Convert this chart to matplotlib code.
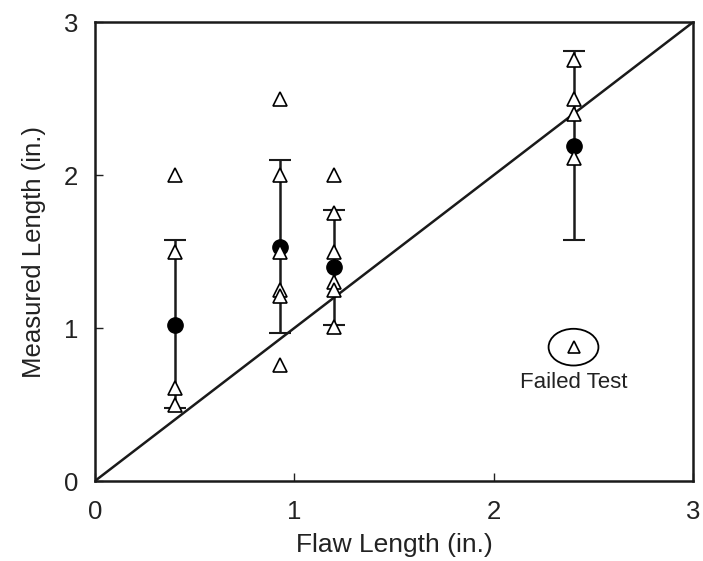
import numpy as np
import matplotlib
matplotlib.use('Agg')
from matplotlib import pyplot as plt
from matplotlib.patches import Ellipse

plt.rcParams['font.family'] = ['Liberation Sans', 'DejaVu Sans']

# individual measurements (open triangles)
tri_x = [0.4, 0.4, 0.4, 0.4,
         0.93, 0.93, 0.93, 0.93, 0.93, 0.93,
         1.2, 1.2, 1.2, 1.2, 1.2, 1.2,
         2.4, 2.4, 2.4, 2.4]
tri_y = [2.0, 1.5, 0.61, 0.5,
         2.5, 2.0, 1.5, 1.25, 1.21, 0.76,
         2.0, 1.75, 1.5, 1.3, 1.25, 1.01,
         2.75, 2.5, 2.4, 2.11]

# means with error bars
mean_x = [0.4, 0.93, 1.2, 2.4]
mean_y = [1.02, 1.53, 1.40, 2.19]
err_hi = [1.575, 2.10, 1.77, 2.81]
err_lo = [0.48, 0.97, 1.02, 1.575]

# failed test point
fail_x = 2.4
fail_y = 0.875

fig = plt.figure(figsize=(7.03, 5.61), dpi=100)
ax = fig.add_axes([0.135, 0.1426, 0.851, 0.818])

ax.plot([0, 3], [0, 3], color='#1a1a1a', lw=1.8, zorder=1)

yerr = [np.array(mean_y) - np.array(err_lo), np.array(err_hi) - np.array(mean_y)]
ax.errorbar(mean_x, mean_y, yerr=yerr, fmt='o', color='black', ms=11,
            ecolor='#1a1a1a', elinewidth=1.8, capsize=8, capthick=1.5, zorder=3)

ax.plot(tri_x, tri_y, '^', mfc='white', mec='black', ms=10, mew=1.2,
        ls='none', zorder=4)
ax.plot([fail_x], [fail_y], '^', mfc='white', mec='black', ms=9, mew=1.2,
        ls='none', zorder=4)
ax.add_patch(Ellipse((fail_x, fail_y), 0.25, 0.24, fill=False,
                     ec='black', lw=1.3, zorder=4))
ax.text(fail_x, fail_y - 0.16, 'Failed Test', ha='center', va='top',
        fontsize=16, color='#222222')

ax.set_xlim(0, 3)
ax.set_ylim(0, 3)
ax.set_xticks([0, 1, 2, 3])
ax.set_yticks([0, 1, 2, 3])
ax.tick_params(direction='in', length=6, width=1, labelsize=18.5,
               colors='#222222')
ax.tick_params(axis='x', pad=14)
ax.tick_params(axis='y', pad=12)
for s in ax.spines.values():
    s.set_linewidth(1.8)
    s.set_color('#1a1a1a')

ax.set_xlabel('Flaw Length (in.)', fontsize=19, color='#222222', labelpad=6)
ax.set_ylabel('Measured Length (in.)', fontsize=18.5, color='#222222', labelpad=13)

fig.savefig('out.png', dpi=100)
